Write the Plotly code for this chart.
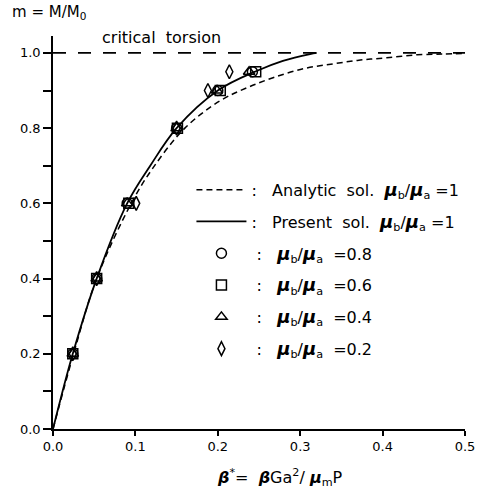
import plotly.graph_objects as go

# Analytic solution (mu_b/mu_a = 1)
analytic_x = [0.0, 0.025, 0.053, 0.095, 0.12, 0.16, 0.203, 0.235, 0.267, 0.304, 0.34, 0.373, 0.405, 0.442, 0.474, 0.5]
analytic_y = [0.0, 0.2, 0.4, 0.6, 0.69, 0.8, 0.873, 0.907, 0.934, 0.958, 0.971, 0.981, 0.987, 0.995, 0.997, 0.999]

# Present solution (mu_b/mu_a = 1)
present_x = [0.0, 0.024, 0.053, 0.09, 0.118, 0.15, 0.2, 0.247, 0.279, 0.312, 0.32]
present_y = [0.0, 0.2, 0.4, 0.6, 0.7, 0.8, 0.9, 0.952, 0.979, 0.997, 1.0]

# Critical torsion
critical_x = [0.0, 0.5]
critical_y = [1.0, 1.0]

levels = [0.2, 0.4, 0.6, 0.8, 0.9, 0.95]
x_08 = [0.024, 0.053, 0.090, 0.150, 0.200, 0.242]
x_06 = [0.024, 0.053, 0.092, 0.151, 0.203, 0.246]
x_04 = [0.024, 0.053, 0.090, 0.150, 0.199, 0.238]
x_02 = [0.024, 0.053, 0.101, 0.150, 0.188, 0.214]

tick_vals_x = [0, 0.1, 0.2, 0.3, 0.4, 0.5]
tick_text_x = ["0.0", "0.1", "0.2", "0.3", "0.4", "0.5"]
tick_vals_y = [0, 0.2, 0.4, 0.6, 0.8, 1.0]
tick_text_y = ["0.0", "0.2", "0.4", "0.6", "0.8", "1.0"]
minor_y = [0.1, 0.3, 0.5, 0.7, 0.9]

mu = ("<span style='font-size:18px'><b><i>μ</i></b></span><sub>b</sub>/"
      "<span style='font-size:18px'><b><i>μ</i></b></span><sub>a</sub>")
FONT = "DejaVu Sans"

fig = go.Figure()
fig.add_trace(go.Scatter(x=critical_x, y=critical_y, mode="lines",
                         line=dict(color="black", width=1.6, dash="13px,12px"),
                         showlegend=False, hoverinfo="skip"))
fig.add_trace(go.Scatter(x=analytic_x, y=analytic_y, mode="lines", line_shape="spline",
                         line=dict(color="black", width=1.5, dash="6px,4px"),
                         name=":   Analytic  sol.  " + mu + " =1", legendgroup="a"))
fig.add_trace(go.Scatter(x=present_x, y=present_y, mode="lines", line_shape="spline",
                         line=dict(color="black", width=1.8),
                         name=":   Present  sol.  " + mu + " =1", legendgroup="b"))
for xs, sym, lab, g in [(x_08, "circle-open", "0.8", "c"),
                        (x_06, "square-open", "0.6", "d"),
                        (x_04, "triangle-up-open", "0.4", "e"),
                        (x_02, "diamond-tall-open", "0.2", "f")]:
    fig.add_trace(go.Scatter(x=xs, y=levels, mode="markers",
                             marker=dict(symbol=sym, size=10, color="black",
                                         line=dict(color="black", width=1.5)),
                             name=" :   " + mu + "  =" + lab, legendgroup=g))

fig.update_layout(
    width=479, height=501,
    paper_bgcolor="white", plot_bgcolor="white",
    margin=dict(l=53, r=14, t=36, b=72, autoexpand=False),
    font=dict(family=FONT, size=14, color="black"),
    showlegend=True,
    legend=dict(x=0.336, y=0.652, xanchor="left", yanchor="top",
                bgcolor="rgba(0,0,0,0)", itemwidth=50, tracegroupgap=8,
                font=dict(family=FONT, size=16, color="black")),
    xaxis=dict(range=[0, 0.5], tickvals=tick_vals_x, ticktext=tick_text_x,
               automargin=False,
               showgrid=False, zeroline=False, showline=True, linecolor="black",
               linewidth=1.5, ticks="outside", ticklen=5, tickwidth=1.5,
               tickcolor="black", tickfont=dict(family=FONT, size=13)),
    yaxis=dict(range=[0, 1.045], tickvals=tick_vals_y, ticktext=tick_text_y,
               automargin=False,
               showgrid=False, zeroline=False, showline=True, linecolor="black",
               linewidth=1.5, ticks="outside", ticklen=8, tickwidth=1.5,
               tickcolor="black", tickfont=dict(family=FONT, size=13),
               minor=dict(tickvals=minor_y, ticks="outside",
                          ticklen=8, tickwidth=1.5, tickcolor="black")),
    annotations=[
        dict(text="m = M/M<sub>0</sub>", xref="paper", yref="paper",
             x=-0.105, y=1.03, xanchor="left", yanchor="bottom", showarrow=False,
             font=dict(family=FONT, size=15)),
        dict(text="critical  torsion", xref="x", yref="paper",
             x=0.057, y=0.995, xanchor="left", yanchor="middle", showarrow=False,
             font=dict(family=FONT, size=16)),
        dict(text="<b><i>β</i></b><sup>*</sup>=  <b><i>β</i></b>Ga<sup>2</sup>/ <b><i>μ</i></b><sub>m</sub>P",
             xref="paper", yref="paper", x=0.55, y=-0.09,
             xanchor="center", yanchor="top", showarrow=False,
             font=dict(family=FONT, size=16)),
    ],
)

fig.write_html("out.html", config={"displayModeBar": False},
               post_script="document.body.style.margin='0px';")
